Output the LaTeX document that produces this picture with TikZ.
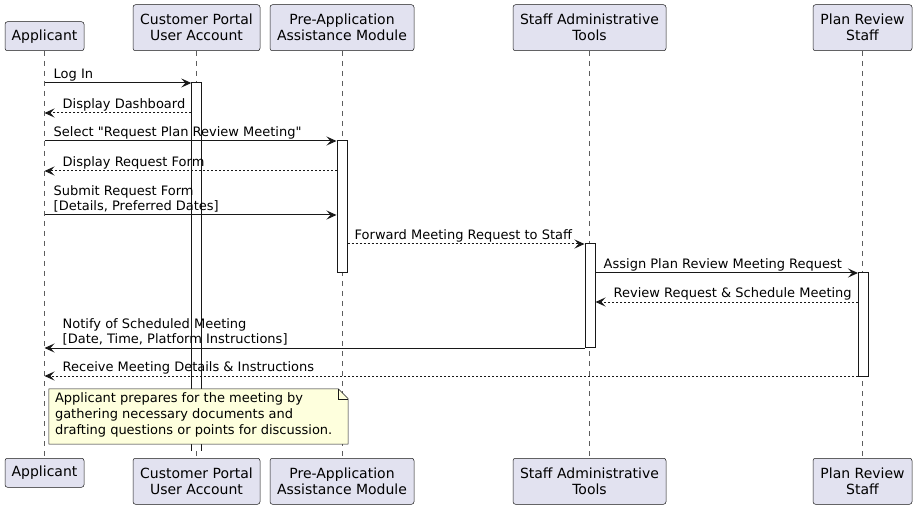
\documentclass[tikz,border=0pt]{standalone}
\usepackage{fontspec}
\defaultfontfeatures[\rmfamily]{}
\setmainfont{DejaVu Sans}
\usetikzlibrary{arrows.meta}
\definecolor{partfill}{HTML}{E2E2F0}
\definecolor{ink}{HTML}{181818}
\definecolor{notefill}{HTML}{FEFFDD}
\begin{document}
\begin{tikzpicture}[x=1pt,y=-1pt,
 part/.style={draw=ink, line width=0.5pt, fill=partfill, rounded corners=2.5pt, align=center,
   font=\fontsize{14}{16}\selectfont, inner sep=0pt, minimum height=29pt},
 parttwo/.style={part, minimum height=46pt},
 life/.style={draw=ink!70, line width=0.5pt, dash pattern=on 5pt off 5pt},
 act/.style={fill=white, minimum width=10pt, inner sep=0pt},
 actline/.style={draw=ink, line width=1pt},
 msg/.style={draw=ink, line width=1pt, -{Stealth[length=10pt,width=9pt,inset=4pt]}},
 ret/.style={msg, dash pattern=on 2pt off 2pt},
 lbl/.style={font=\fontsize{13}{15}\selectfont, inner sep=0pt, anchor=south west, align=left, text depth=0pt},
 notebox/.style={inner sep=0pt, minimum width=299pt, minimum height=55pt},
 notetext/.style={font=\fontsize{13}{16}\selectfont, inner sep=0pt, align=left, anchor=north west},
]
\useasboundingbox (0,0) rectangle (917,510);

% participants top
\node[part, minimum width=79pt, anchor=south] (pA) at (44.5,51) {Applicant};
\node[parttwo, minimum width=127pt, anchor=south] (pC) at (196.5,51) {Customer Portal\\User Account};
\node[parttwo, minimum width=144pt, anchor=south] (pP) at (342,51) {Pre-Application\\Assistance Module};
\node[parttwo, minimum width=153pt, anchor=south] (pS) at (589.5,51) {Staff Administrative\\Tools};
\node[parttwo, minimum width=99pt, anchor=south] (pR) at (862.5,51) {Plan Review\\Staff};
% participants bottom
\node[part, minimum width=79pt, anchor=north] (bA) at (44.5,458) {Applicant};
\node[parttwo, minimum width=127pt, anchor=north] (bC) at (196.5,458) {Customer Portal\\User Account};
\node[parttwo, minimum width=144pt, anchor=north] (bP) at (342,458) {Pre-Application\\Assistance Module};
\node[parttwo, minimum width=153pt, anchor=north] (bS) at (589.5,458) {Staff Administrative\\Tools};
\node[parttwo, minimum width=99pt, anchor=north] (bR) at (862.5,458) {Plan Review\\Staff};

% lifelines
\draw[life] (pA.south) -- (bA.north);
\draw[life] (pC.south) -- (bC.north);
\draw[life] (pP.south) -- (bP.north);
\draw[life] (pS.south) -- (bS.north);
\draw[life] (pR.south) -- (bR.north);

% activations
\node[act, minimum height=368pt] (aC) at (196.5,267) {};
\draw[actline] (aC.south west) -- (aC.north west) -- (aC.north east) -- (aC.south east);
\node[act, minimum height=132pt, draw=ink, line width=1pt] (aP) at (342,207) {};
\node[act, minimum height=103pt, draw=ink, line width=1pt] (aS) at (590,295.5) {};
\node[act, minimum height=103pt, draw=ink, line width=1pt] (aR) at (863.5,324.5) {};

% message rows
\coordinate (m1) at (0,83);
\coordinate (m2) at (0,113);
\coordinate (m3) at (0,141);
\coordinate (m4) at (0,171);
\coordinate (m5) at (0,215);
\coordinate (m6) at (0,244);
\coordinate (m7) at (0,273);
\coordinate (m8) at (0,302);
\coordinate (m9) at (0,348);
\coordinate (m10) at (0,376);

\draw[msg] (pA |- m1) -- (aC.west |- m1);
\node[lbl] (l1) at ([xshift=9pt,yshift=4pt]pA |- m1) {Log In};

\draw[ret] (aC.west |- m2) -- (pA |- m2);
\node[lbl] (l2) at ([xshift=18pt,yshift=4pt]pA |- m2) {Display Dashboard};

\draw[msg] (pA |- m3) -- (aP.west |- m3);
\node[lbl] (l3) at ([xshift=9pt,yshift=4pt]pA |- m3) {Select "Request Plan Review Meeting"};

\draw[ret] (aP.west |- m4) -- (pA |- m4);
\node[lbl] (l4) at ([xshift=18pt,yshift=4pt]pA |- m4) {Display Request Form};

\draw[msg] (pA |- m5) -- (aP.west |- m5);
\node[lbl] (l5) at ([xshift=9pt,yshift=4pt]pA |- m5) {Submit Request Form\\{}[Details, Preferred Dates]};

\draw[ret] (aP.east |- m6) -- (aS.west |- m6);
\node[lbl] (l6) at ([xshift=7pt,yshift=4pt]aP.east |- m6) {Forward Meeting Request to Staff};

\draw[msg] (aS.east |- m7) -- (aR.west |- m7);
\node[lbl] (l7) at ([xshift=8pt,yshift=4pt]aS.east |- m7) {Assign Plan Review Meeting Request};

\draw[ret] (aR.west |- m8) -- (aS.east |- m8);
\node[lbl] (l8) at ([xshift=18pt,yshift=4pt]aS.east |- m8) {Review Request \& Schedule Meeting};

\draw[msg] (aS.west |- m9) -- (pA |- m9);
\node[lbl] (l9) at ([xshift=18pt,yshift=4pt]pA |- m9) {Notify of Scheduled Meeting\\{}[Date, Time, Platform Instructions]};

\draw[ret] (aR.west |- m10) -- (pA |- m10);
\node[lbl] (l10) at ([xshift=18pt,yshift=4pt]pA |- m10) {Receive Meeting Details \& Instructions};

% note
\node[notebox] (note) at (198.5,416.5) {};
\draw[draw=ink, line width=0.5pt, fill=notefill]
  (note.north west) -- ([xshift=-10pt]note.north east) -- ([yshift=-10pt]note.north east)
  -- (note.south east) -- (note.south west) -- cycle;
\draw[draw=ink, line width=0.5pt]
  ([xshift=-10pt]note.north east) -- ([xshift=-10pt,yshift=-10pt]note.north east) -- ([yshift=-10pt]note.north east);
\node[notetext] (noteT) at ([xshift=6pt,yshift=-4pt]note.north west)
  {Applicant prepares for the meeting by\\gathering necessary documents and\\drafting questions or points for discussion.};
\end{tikzpicture}
\end{document}
